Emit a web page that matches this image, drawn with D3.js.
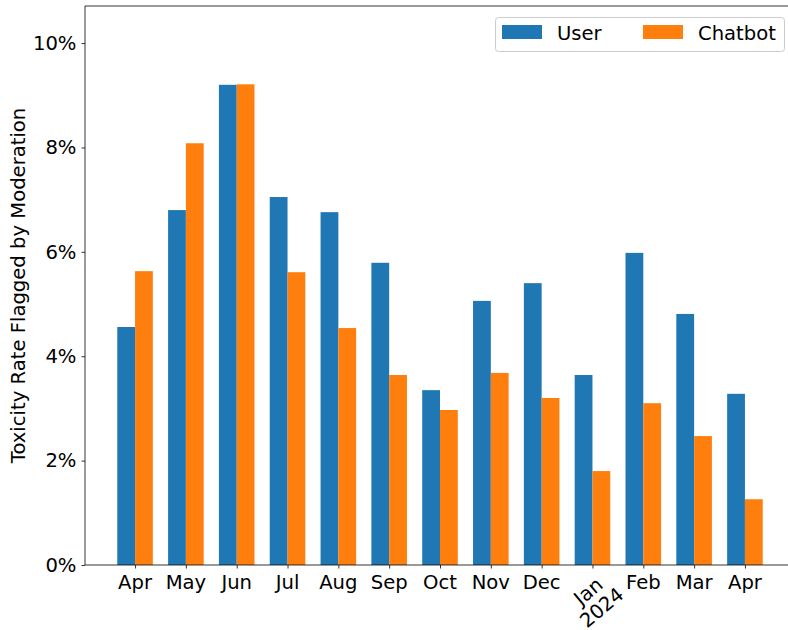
<!DOCTYPE html>
<html><head><meta charset="utf-8">
<script src="https://cdn.jsdelivr.net/npm/d3@7"></script>
<style>body{margin:0;background:#fff}svg{display:block}text{font-family:"DejaVu Sans",sans-serif}</style>
</head><body>
<svg id="c" width="788" height="630"></svg>
<script>
const categories = ["Apr","May","Jun","Jul","Aug","Sep","Oct","Nov","Dec","Jan\n2024","Feb","Mar","Apr"];
const userValues = [4.56,6.80,9.20,7.05,6.76,5.79,3.35,5.06,5.40,3.64,5.98,4.81,3.28];
const chatbotValues = [5.63,8.08,9.21,5.61,4.54,3.64,2.97,3.68,3.20,1.80,3.10,2.47,1.26];
const yTicks = [0,2,4,6,8,10];
const seriesNames = ["User","Chatbot"];
const colors = ["#1f77b4","#ff7f0e"];

(function(){
const FS = 19.6;
const svg = d3.select("#c");
const pL = 85, pR = 795, pT = 6, pB = 565;
const bw = 0.35;
const x = d3.scaleLinear().domain([-0.985, 12.985]).range([pL, pR]);
const y = d3.scaleLinear().domain([0, 10.71]).range([pB, pT]);

const g = svg.append("g");
const series = [userValues, chatbotValues];
series.forEach((vals, s) => {
  g.selectAll(null).data(vals).enter().append("rect")
    .attr("x", (d,i) => x(i + (s===0 ? -bw : 0)))
    .attr("width", (d,i) => x(i + bw) - x(i))
    .attr("y", d => y(d))
    .attr("height", d => y(0) - y(d))
    .attr("fill", colors[s]);
});

// frame
svg.append("path").attr("d", `M${pL},${pB}V${pT}H${pR}`).attr("fill","none").attr("stroke","#000").attr("stroke-width",0.8);
svg.append("line").attr("x1",pL).attr("x2",pR).attr("y1",pB).attr("y2",pB).attr("stroke","#000").attr("stroke-width",0.8);

// y axis
const ya = d3.axisLeft(y).tickValues(yTicks).tickFormat(d => d + "%").tickSize(3.5).tickPadding(5);
const yg = svg.append("g").attr("transform", `translate(${pL},0)`).call(ya);
yg.select(".domain").remove();
yg.selectAll("text").attr("font-size", FS).attr("fill","#000").attr("font-family","DejaVu Sans");
yg.selectAll("line").attr("stroke","#000").attr("stroke-width",0.8);

// x axis
const xa = d3.axisBottom(x).tickValues(d3.range(categories.length)).tickFormat("").tickSize(3.5);
const xg = svg.append("g").attr("transform", `translate(0,${pB})`).call(xa);
xg.select(".domain").remove();
xg.selectAll("line").attr("stroke","#000").attr("stroke-width",0.8);

categories.forEach((c, i) => {
  const lines = c.split("\n");
  if (lines.length === 1) {
    svg.append("text").attr("x", x(i)).attr("y", pB + 24).attr("text-anchor","middle")
      .attr("font-size",FS).attr("fill","#000").text(c);
  } else {
    const t = svg.append("text").attr("text-anchor","middle").attr("font-size",FS).attr("fill","#000")
      .attr("transform", `translate(${x(i)+3},${pB + 35}) rotate(-40)`);
    lines.forEach((l, k) => {
      t.append("tspan").attr("x", 0).attr("y", (k - (lines.length-1)/2) * 21 + 6).text(l);
    });
  }
});

// y label
svg.append("text").attr("transform", `translate(25,${(pT+pB)/2}) rotate(-90)`)
  .attr("text-anchor","middle").attr("font-size",FS).attr("fill","#000")
  .text("Toxicity Rate Flagged by Moderation");

// legend
const lg = svg.append("g");
lg.append("rect").attr("x",495.5).attr("y",17.5).attr("width",289).attr("height",34).attr("rx",3)
  .attr("fill","#fff").attr("fill-opacity",0.8).attr("stroke","#ccc").attr("stroke-width",1);
const lx = [502, 643];
seriesNames.forEach((n, s) => {
  lg.append("rect").attr("x", lx[s]).attr("y", 25).attr("width", 40).attr("height", 14).attr("fill", colors[s]);
  lg.append("text").attr("x", lx[s] + 55).attr("y", 39.5).attr("font-size",FS).attr("fill","#000").text(n);
});
})();
</script>
</body></html>
